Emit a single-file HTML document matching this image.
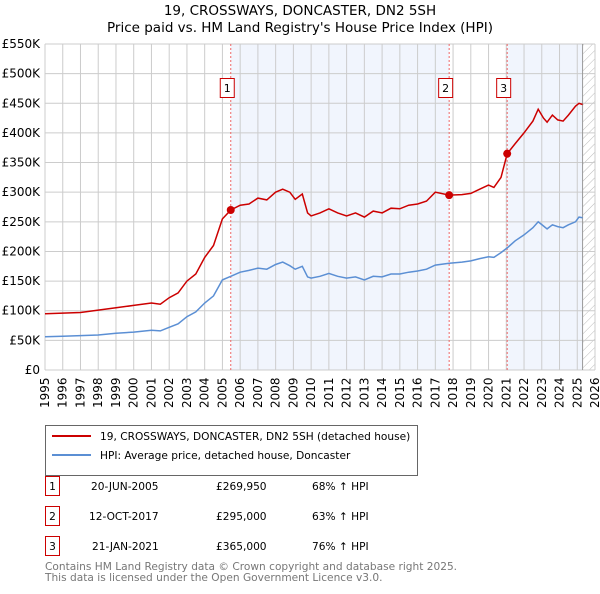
<!DOCTYPE html>
<html><head><meta charset="utf-8"><style>
body{margin:0;background:#fff;font-family:"DejaVu Sans","Liberation Sans",sans-serif;}
svg text{font-family:"DejaVu Sans","Liberation Sans",sans-serif;}
</style></head><body>
<svg id="chart" width="600" height="590" xmlns="http://www.w3.org/2000/svg">
<defs><pattern id="hatch" patternUnits="userSpaceOnUse" width="6" height="6" patternTransform="rotate(45)"><line x1="0" y1="0" x2="0" y2="6" stroke="#bbb" stroke-width="1"/></pattern></defs>
<text x="300" y="15" text-anchor="middle" font-size="13.5">19, CROSSWAYS, DONCASTER, DN2 5SH</text>
<text x="300" y="32" text-anchor="middle" font-size="13.5">Price paid vs. HM Land Registry's House Price Index (HPI)</text>
<g id="plot"></g>
<g>
<rect x="45.5" y="425.5" width="372" height="50" fill="#fff" stroke="#666"/>
<line x1="52" y1="436" x2="91" y2="436" stroke="#cc0000" stroke-width="2"/>
<text x="100" y="440" font-size="10.6">19, CROSSWAYS, DONCASTER, DN2 5SH (detached house)</text>
<line x1="52" y1="455" x2="91" y2="455" stroke="#5b8fd4" stroke-width="2"/>
<text x="100" y="459" font-size="10.6">HPI: Average price, detached house, Doncaster</text>
</g>
<g font-size="10.6">
<rect x="45.5" y="476.5" width="14" height="19" fill="#fff" stroke="#cc0000"/><text x="52.5" y="490" text-anchor="middle">1</text>
<text x="91" y="490">20-JUN-2005</text><text x="216" y="490">£269,950</text><text x="312" y="490">68% ↑ HPI</text>
<rect x="45.5" y="506.5" width="14" height="19" fill="#fff" stroke="#cc0000"/><text x="52.5" y="520" text-anchor="middle">2</text>
<text x="89" y="520">12-OCT-2017</text><text x="216" y="520">£295,000</text><text x="312" y="520">63% ↑ HPI</text>
<rect x="45.5" y="536.5" width="14" height="19" fill="#fff" stroke="#cc0000"/><text x="52.5" y="550" text-anchor="middle">3</text>
<text x="92" y="550">21-JAN-2021</text><text x="216" y="550">£365,000</text><text x="312" y="550">76% ↑ HPI</text>
</g>
<text x="45" y="570" font-size="10.6" fill="#777">Contains HM Land Registry data © Crown copyright and database right 2025.</text>
<text x="45" y="581" font-size="10.6" fill="#777">This data is licensed under the Open Government Licence v3.0.</text>
</svg>
<script>
const times=[1995,1996,1997,1998,1999,2000,2001,2001.5,2002,2002.5,2003,2003.5,2004,2004.5,2005,2005.47,2006,2006.5,2007,2007.5,2008,2008.4,2008.8,2009.1,2009.5,2009.8,2010,2010.5,2011,2011.5,2012,2012.5,2013,2013.5,2014,2014.5,2015,2015.5,2016,2016.5,2017,2017.78,2018.5,2019,2019.5,2020,2020.3,2020.7,2021.05,2021.5,2022,2022.5,2022.8,2023.1,2023.3,2023.6,2023.9,2024.2,2024.5,2024.9,2025.1,2025.3];
const priceValues=[95,96,97,101,105,109,113,111,122,130,150,162,190,210,255,270,278,280,290,287,300,305,300,288,297,265,260,265,272,265,260,265,258,268,265,273,272,278,280,285,300,295,296,298,305,312,308,325,365,382,400,420,440,425,418,430,422,420,430,445,450,448];
const hpiValues=[56,57,58,59,62,64,67,66,72,78,90,98,113,125,152,158,165,168,172,170,178,182,176,170,175,157,155,158,163,158,155,157,152,158,157,162,162,165,167,170,177,180,182,184,188,191,190,198,206,218,228,240,250,243,238,245,242,240,245,250,258,257];
const saleTimes=[2005.47,2017.78,2021.05];
const saleValues=[269.95,295,365];
const saleLabels=["1","2","3"];
const yTicks=[0,50,100,150,200,250,300,350,400,450,500,550];
const yTickLabels=["£0","£50K","£100K","£150K","£200K","£250K","£300K","£350K","£400K","£450K","£500K","£550K"];
const xYears=[1995,1996,1997,1998,1999,2000,2001,2002,2003,2004,2005,2006,2007,2008,2009,2010,2011,2012,2013,2014,2015,2016,2017,2018,2019,2020,2021,2022,2023,2024,2025,2026];

const L=45,R=595,T=44,B=370;
const xs=t=>L+(t-1995)/(2026-1995)*(R-L);
const ys=v=>B-v/550*(B-T);
const NS="http://www.w3.org/2000/svg";
const g=document.getElementById('plot');
function mk(tag,attrs,parent){const e=document.createElementNS(NS,tag);for(const k in attrs)e.setAttribute(k,attrs[k]);(parent||g).appendChild(e);return e;}
let r=mk('rect',{x:xs(saleTimes[0]),y:T,width:xs(saleTimes[1])-xs(saleTimes[0]),height:B-T,fill:'#eef3fc',opacity:0.8});


r=mk('rect',{x:xs(saleTimes[2]),y:T,width:xs(2025.3)-xs(saleTimes[2]),height:B-T,fill:'#eef3fc',opacity:0.8});


r=mk('rect',{x:xs(2025.3),y:T,width:R-xs(2025.3),height:B-T,fill:'url(#hatch)'});


xYears.forEach(y=>{const l=mk('line',{x1:xs(y),x2:xs(y),y1:T,y2:B,stroke:'#ccc','stroke-width':1});


const t=mk('text',{x:0,y:0,'font-size':12,transform:`translate(${xs(y)+4},${B+38}) rotate(-90)`});t.textContent=y;

});
yTicks.forEach((v,i)=>{const l=mk('line',{x1:L,x2:R,y1:ys(v),y2:ys(v),stroke:'#ccc','stroke-width':1});


const t=mk('text',{x:L-5,y:ys(v)+4,'font-size':12,'text-anchor':'end'});t.textContent=yTickLabels[i];

});
let vl=mk('line',{x1:xs(2025.3),x2:xs(2025.3),y1:T,y2:B,stroke:'#999','stroke-width':1});


saleTimes.forEach((t,i)=>{const l=mk('line',{x1:xs(t),x2:xs(t),y1:T,y2:B,stroke:'#e66','stroke-width':1,'stroke-dasharray':'2,2'});


const bx=mk('rect',{x:xs(t)-10.5,y:78.5,width:14,height:19,fill:'#fff',stroke:'#cc0000'});


const tx=mk('text',{x:xs(t)-3.5,y:92,'font-size':11,'text-anchor':'middle'});tx.textContent=saleLabels[i];

});
function line(vals,color,name){const d=vals.map((v,i)=>(i?'L':'M')+xs(times[i]).toFixed(1)+','+ys(v).toFixed(1)).join('');
const p=mk('path',{d:d,fill:'none',stroke:color,'stroke-width':1.5});

}
line(hpiValues,'#5b8fd4','hpi-line');
line(priceValues,'#cc0000','price-line');
saleTimes.forEach((t,i)=>{const c=mk('circle',{cx:xs(t),cy:ys(saleValues[i]),r:4,fill:'#cc0000'});

});
</script>
</body></html>
